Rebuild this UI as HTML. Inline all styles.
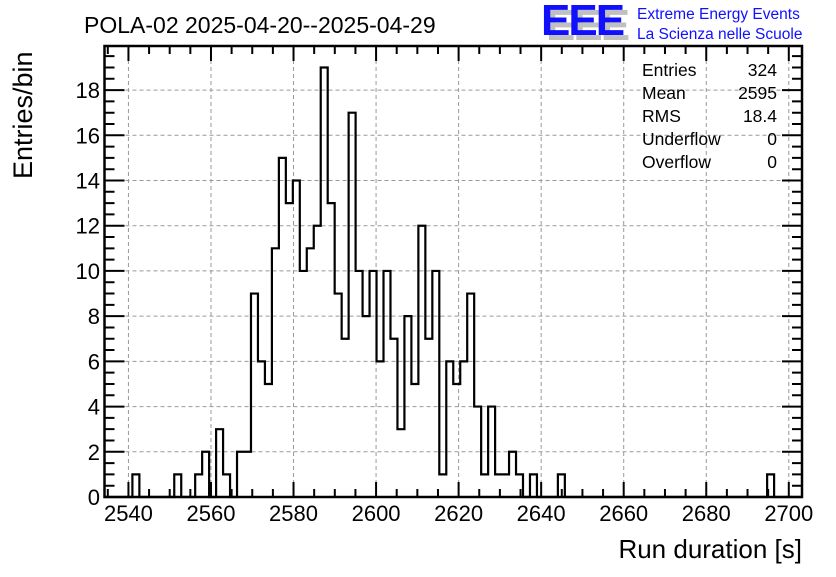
<!DOCTYPE html>
<html><head><meta charset="utf-8"><style>
body{margin:0;background:#fff;width:836px;height:572px;overflow:hidden;font-family:"Liberation Sans",sans-serif}
</style></head><body>
<svg id="chart" width="836" height="572" viewBox="0 0 836 572" xmlns="http://www.w3.org/2000/svg" font-family="Liberation Sans, sans-serif">
<rect width="836" height="572" fill="#fff"/>
<text x="84" y="33" font-size="23">POLA-02 2025-04-20--2025-04-29</text>
<g>
<text x="546" y="40" font-size="44" font-weight="bold" fill="#c0c0c0" letter-spacing="-2">EEE</text>
<text x="541" y="35" font-size="44" font-weight="bold" fill="#1010ff" letter-spacing="-2">EEE</text>
<text x="637" y="19" font-size="15.5" fill="#1010ff">Extreme Energy Events</text>
<text x="637" y="39" font-size="15.5" fill="#1010ff">La Scienza nelle Scuole</text>
</g>
<g id="grid"></g>
<g id="axes"></g>
<path id="hist" fill="none" stroke="#000" stroke-width="2.2"/>
<rect x="104.5" y="46" width="697.5" height="451" fill="none" stroke="#000" stroke-width="2.5"/>
<g font-size="17.5">
<text x="642" y="76">Entries</text><text x="777" y="76" text-anchor="end">324</text>
<text x="642" y="99">Mean</text><text x="777" y="99" text-anchor="end">2595</text>
<text x="642" y="122">RMS</text><text x="777" y="122" text-anchor="end">18.4</text>
<text x="642" y="145">Underflow</text><text x="777" y="145" text-anchor="end">0</text>
<text x="642" y="168">Overflow</text><text x="777" y="168" text-anchor="end">0</text>
</g>
<text transform="translate(32,179) rotate(-90)" font-size="27">Entries/bin</text>
<text x="802" y="558" font-size="26" text-anchor="end">Run duration [s]</text>
</svg>
<script>
const counts = [0,0,0,0,1,0,0,0,0,0,1,0,0,1,2,0,3,1,0,2,2,9,6,5,11,15,13,14,10,11,12,19,13,9,7,17,10,8,10,6,10,7,3,8,5,12,7,10,1,6,5,6,9,4,1,4,1,1,2,1,0,1,0,0,0,1,0,0,0,0,0,0,0,0,0,0,0,0,0,0,0,0,0,0,0,0,0,0,0,0,0,0,0,0,0,1,0,0,0,0];
const xTicks = [2540,2560,2580,2600,2620,2640,2660,2680,2700];
const yTicks = [0,2,4,6,8,10,12,14,16,18];
const xMin = 2534.2, xMax = 2703.2, yMin = 0, yMax = 19.95;
const L=104.5,R=802,T=46,B=497;
const NS='http://www.w3.org/2000/svg';
function X(v){return L+(v-xMin)/(xMax-xMin)*(R-L);}
function Y(v){return B-(v-yMin)/(yMax-yMin)*(B-T);}
function mk(tag,attrs,parent){const e=document.createElementNS(NS,tag);for(const k in attrs)e.setAttribute(k,attrs[k]);parent.appendChild(e);return e;}
const grid=document.getElementById('grid'), axes=document.getElementById('axes');
xTicks.forEach(t=>{
  const x=X(t);
  const g=mk('line',{x1:x,x2:x,y1:T,y2:B,stroke:'#999','stroke-dasharray':'4,3','stroke-width':1},grid);
  
  
  const lb=mk('text',{x:x,y:521,'font-size':22,'text-anchor':'middle'},axes);
  lb.textContent=t;
  
  
});
yTicks.forEach(t=>{
  const y=Y(t);
  if(t>0){const g=mk('line',{x1:L,x2:R,y1:y,y2:y,stroke:'#999','stroke-dasharray':'4,3','stroke-width':1},grid);
  
  }
  const lb=mk('text',{x:100,y:y+8,'font-size':22,'text-anchor':'end'},axes);
  lb.textContent=t;
  
  
});
let tk='';
for(let v=2535;v<=xMax;v+=5){const x=X(v);const len=(v%20===0)?15:8;tk+=`M${x},${B}V${B-len}M${x},${T}V${T+len}`;}
for(let v=0;v<=yMax;v+=0.5){const y=Y(v);const len=(v%2===0)?20:10;tk+=`M${L},${y}H${L+len}M${R},${y}H${R-len}`;}
const tp=mk('path',{d:tk,stroke:'#000','stroke-width':2,fill:'none'},axes);


const bw=(xMax-xMin)/counts.length;
let d=`M${X(xMin)},${Y(0)}`;
counts.forEach((c,i)=>{const x0=X(xMin+i*bw),x1=X(xMin+(i+1)*bw);d+=`V${Y(c)}H${x1}`;});
d+=`V${Y(0)}`;
document.getElementById('hist').setAttribute('d',d);
</script>
</body></html>
